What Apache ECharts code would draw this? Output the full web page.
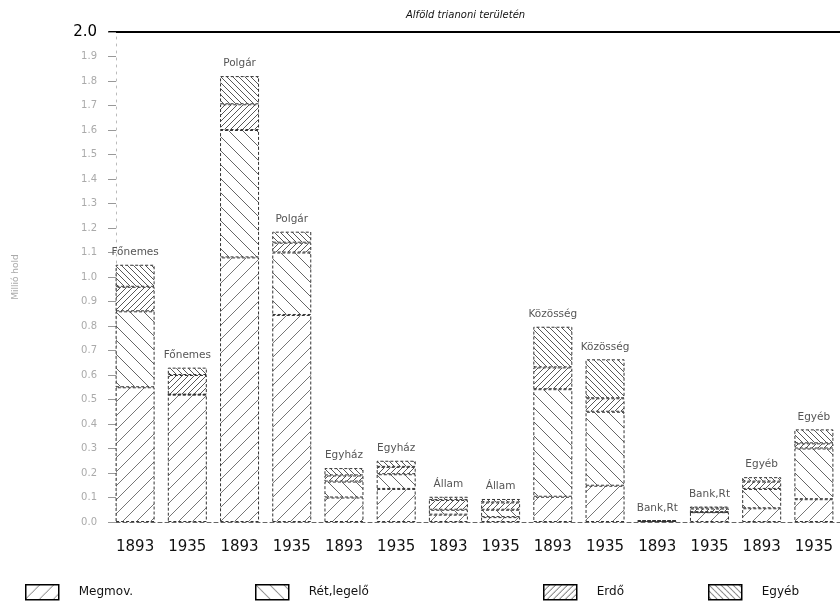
<!DOCTYPE html>
<html>
<head>
<meta charset="utf-8">
<script src="https://cdn.jsdelivr.net/npm/echarts@6/dist/echarts.min.js"></script>
<style>
  html, body { margin: 0; padding: 0; background: #fff; }
  #chart { width: 840px; height: 607px; }
</style>
</head>
<body>
<div id="chart"></div>
<script>
// years under each bar, owner group shown above each bar
const years = ['1893', '1935', '1893', '1935', '1893', '1935', '1893', '1935', '1893', '1935', '1893', '1935', '1893', '1935'];
const owners = ['Főnemes', 'Főnemes', 'Polgár', 'Polgár', 'Egyház', 'Egyház', 'Állam', 'Állam', 'Közösség', 'Közösség', 'Bank,Rt', 'Bank,Rt', 'Egyéb', 'Egyéb'];

// million hold
const megmov = [0.55, 0.52, 1.08, 0.845, 0.10, 0.135, 0.03, 0.02, 0.103, 0.148, 0.004, 0.04, 0.056, 0.093];
const retLegelo = [0.31, 0.0, 0.52, 0.255, 0.065, 0.06, 0.02, 0.03, 0.439, 0.302, 0.0, 0.0, 0.079, 0.207];
const erdo = [0.10, 0.08, 0.105, 0.04, 0.025, 0.03, 0.04, 0.03, 0.089, 0.055, 0.0, 0.015, 0.03, 0.021];
const egyeb = [0.09, 0.03, 0.115, 0.045, 0.03, 0.025, 0.013, 0.014, 0.166, 0.159, 0.002, 0.008, 0.018, 0.057];

const yTicks = { min: 0, max: 2, step: 0.1 };

// diagonal hatch tile, dir 1 = "/", -1 = "\"
function hatch(step, dir, color, width) {
    const c = document.createElement('canvas');
    c.width = step; c.height = step;
    const ctx = c.getContext('2d');
    ctx.strokeStyle = color;
    ctx.lineWidth = width;
    ctx.beginPath();
    if (dir > 0) {
        ctx.moveTo(0, step); ctx.lineTo(step, 0);
        ctx.moveTo(-1, 1); ctx.lineTo(1, -1);
        ctx.moveTo(step - 1, step + 1); ctx.lineTo(step + 1, step - 1);
    } else {
        ctx.moveTo(0, 0); ctx.lineTo(step, step);
        ctx.moveTo(-1, step - 1); ctx.lineTo(1, step + 1);
        ctx.moveTo(step - 1, -1); ctx.lineTo(step + 1, 1);
    }
    ctx.stroke();
    return { image: c, repeat: 'repeat' };
}

const fills = {
    'Megmov.': hatch(14, 1, '#666', 0.9),
    'Rét,legelő': hatch(14, -1, '#555', 0.9),
    'Erdő': hatch(6, 1, '#444', 0.9),
    'Egyéb': hatch(6, -1, '#444', 0.9)
};

function barSeries(name, data, withLabel) {
    const s = {
        name: name,
        type: 'bar',
        stack: 'total',
        barWidth: 39,
        data: data,
        itemStyle: {
            color: fills[name],
            borderColor: '#333',
            borderWidth: 1,
            borderType: [3, 2]
        }
    };
    if (withLabel) {
        s.label = {
            show: true,
            position: 'top',
            distance: 7,
            color: '#555',
            fontSize: 10.5,
            fontFamily: 'DejaVu Sans',
            formatter: p => owners[p.dataIndex]
        };
    }
    return s;
}

const legendBase = {
    itemWidth: 33,
    itemHeight: 15,
    itemGap: 0,
    padding: 0,
    top: 584,
    icon: 'rect',
    textStyle: { fontSize: 12, color: '#111', fontFamily: 'DejaVu Sans', padding: [0, 0, 0, 15] },
    itemStyle: { borderColor: '#000', borderWidth: 1.5, borderType: 'solid' }
};

const chart = echarts.init(document.getElementById('chart'));

chart.setOption({
    backgroundColor: '#fff',
    animation: false,
    title: {
        text: 'Alföld trianoni területén',
        left: 401,
        top: 5,
        textStyle: { fontSize: 10, fontWeight: 'normal', fontStyle: 'italic', color: '#111', fontFamily: 'DejaVu Sans' }
    },
    legend: [
        Object.assign({}, legendBase, { data: ['Megmov.'], left: 25 }),
        Object.assign({}, legendBase, { data: ['Rét,legelő'], left: 255 }),
        Object.assign({}, legendBase, { data: ['Erdő'], left: 543 }),
        Object.assign({}, legendBase, { data: ['Egyéb'], left: 708 })
    ],
    grid: { left: 109, top: 32, width: 737, height: 490 },
    xAxis: [
        {
            type: 'category',
            data: years,
            axisLine: { lineStyle: { color: '#666', type: [4, 3], width: 1 } },
            axisTick: { alignWithLabel: true, length: 6, lineStyle: { color: '#444' } },
            axisLabel: { fontSize: 15, color: '#111', fontFamily: 'DejaVu Sans', margin: 18 }
        },
        {
            type: 'category',
            position: 'top',
            data: years,
            axisLine: { lineStyle: { color: '#000', width: 2 } },
            axisTick: { show: false },
            axisLabel: { show: false }
        }
    ],
    yAxis: {
        type: 'value',
        min: yTicks.min,
        max: yTicks.max,
        interval: yTicks.step,
        offset: -7,
        name: 'Millió hold',
        nameLocation: 'middle',
        nameGap: 96,
        nameTextStyle: { fontSize: 9, color: '#aaa', fontFamily: 'DejaVu Sans' },
        splitLine: { show: false },
        axisLine: { show: true, lineStyle: { color: '#bbb', type: [2, 5] } },
        axisTick: { show: true, length: 8, lineStyle: { color: '#999' } },
        axisLabel: {
            margin: 19,
            formatter: v => Math.abs(v - 2) < 1e-6 ? '{b|2.0}' : '{a|' + v.toFixed(1) + '}',
            rich: {
                a: { fontSize: 10, color: '#aaa', fontFamily: 'DejaVu Sans' },
                b: { fontSize: 15, color: '#000', fontFamily: 'DejaVu Sans' }
            }
        }
    },
    series: [
        barSeries('Megmov.', megmov, false),
        barSeries('Rét,legelő', retLegelo, false),
        barSeries('Erdő', erdo, false),
        barSeries('Egyéb', egyeb, true)
    ]
});
</script>
</body>
</html>
